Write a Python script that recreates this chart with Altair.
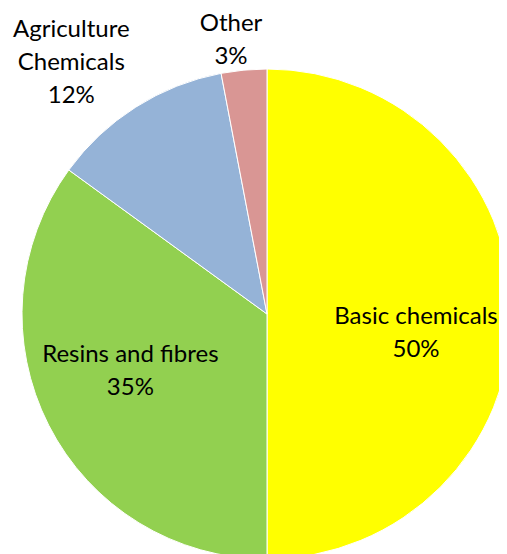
import altair as alt
import pandas as pd

categories = ["Basic chemicals", "Resins and fibres", "Agriculture Chemicals", "Other"]
label_text = ["Basic chemicals", "Resins and fibres", "Agriculture\nChemicals", "Other"]
values = [50, 35, 12, 3]
colors = ["#FFFF00", "#92D050", "#95B3D7", "#D99694"]

df = pd.DataFrame({
    "category": categories,
    "label": [f"{t}\n{v}%" for t, v in zip(label_text, values)],
    "value": values,
    "idx": list(range(len(values))),
})

CX, CY, R = 259, 306, 245
theta_scale = alt.Scale(domain=[0, 100])

pie = alt.Chart(df).mark_arc(stroke="white", strokeWidth=1, radius=R).encode(
    theta=alt.Theta("value:Q", stack=True, scale=theta_scale),
    order=alt.Order("idx:Q"),
    x=alt.value(CX),
    y=alt.value(CY),
    color=alt.Color("category:N", scale=alt.Scale(domain=categories, range=colors), legend=None),
)

def label_layer(cat, r, dx, dy):
    return alt.Chart(df).transform_window(
        cum="sum(value)", sort=[alt.SortField("idx")]
    ).transform_calculate(
        mid="datum.cum - datum.value / 2"
    ).transform_filter(alt.datum.category == cat).mark_text(
        radius=r, dx=dx, dy=dy, lineBreak="\n", font="Lato", fontSize=24,
        lineHeight=33, color="black", align="center", baseline="middle",
    ).encode(
        theta=alt.Theta("mid:Q", stack=None, scale=theta_scale),
        x=alt.value(CX), y=alt.value(CY), text="label:N",
    )

chart = alt.layer(
    pie,
    label_layer("Basic chemicals", 149, 0, 3),
    label_layer("Resins and fibres", 150, -3, -27),
    label_layer("Agriculture Chemicals", 300, -35, -31),
    label_layer("Other", 276, -10, -15),
).properties(width=491, height=546, padding=0, autosize="none").configure_view(stroke=None)

chart.save("out.html", embed_options={"renderer": "svg", "actions": False})
